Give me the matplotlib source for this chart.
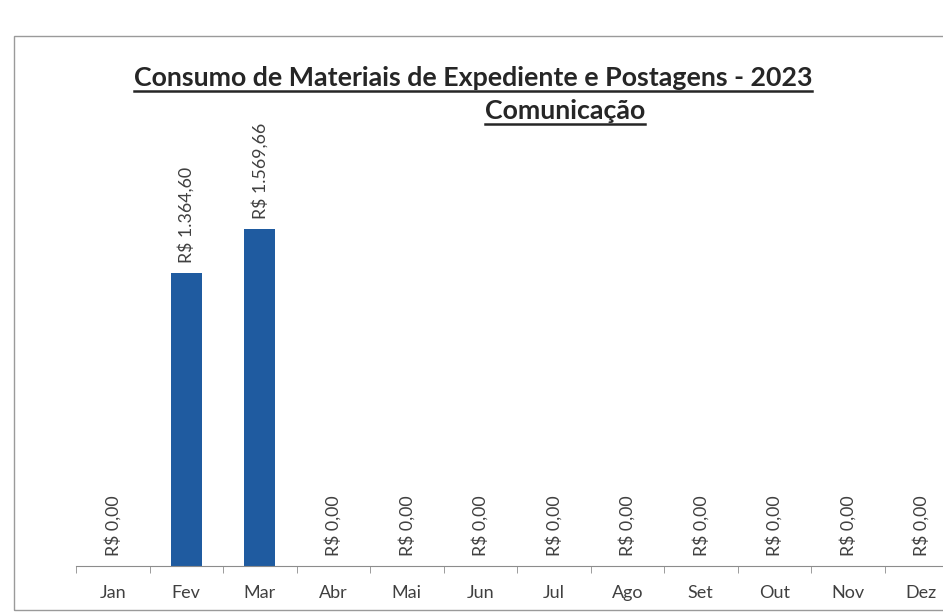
import matplotlib
matplotlib.use("Agg")
import matplotlib.pyplot as plt
from matplotlib.lines import Line2D
from matplotlib.patches import Rectangle

meses = ["Jan", "Fev", "Mar", "Abr", "Mai", "Jun", "Jul", "Ago", "Set", "Out", "Nov", "Dez"]
valores = [0.00, 1364.60, 1569.66, 0.00, 0.00, 0.00, 0.00, 0.00, 0.00, 0.00, 0.00, 0.00]
rotulos = ["R$ 0,00", "R$ 1.364,60", "R$ 1.569,66", "R$ 0,00", "R$ 0,00", "R$ 0,00",
           "R$ 0,00", "R$ 0,00", "R$ 0,00", "R$ 0,00", "R$ 0,00", "R$ 0,00"]

plt.rcParams['font.family'] = ['Lato', 'DejaVu Sans']
texto = '#404040'

fig = plt.figure(figsize=(9.43, 6.16), dpi=100)
W, H = 943, 616

# moldura do grafico (scan)
fig.patches.append(Rectangle((14 / W, 6 / H), 1.2, 574 / H, transform=fig.transFigure,
                             fill=False, edgecolor='#9a9a9a', linewidth=1.0))

ax = fig.add_axes([76 / W, (H - 566) / H, 882 / W, (566 - 93) / H])
x = range(len(meses))
ax.bar(x, valores, width=0.42, color='#1f5ba0')
ax.set_xlim(-0.5, len(meses) - 0.5)
ax.set_ylim(0, 2200)

for xi, v, r in zip(x, valores, rotulos):
    ax.annotate(r, (xi, v), xytext=(0, 7), textcoords='offset points',
                rotation=90, ha='center', va='bottom', fontsize=12.8, color=texto)

for s in ['top', 'right', 'left']:
    ax.spines[s].set_visible(False)
ax.spines['bottom'].set_color('#8c8c8c')
ax.set_yticks([])
ax.set_xticks(x)
ax.set_xticklabels(meses, fontsize=13, color=texto)
ax.tick_params(axis='x', length=0, pad=14)
ax.set_xticks([i - 0.5 for i in range(len(meses) + 1)], minor=True)
ax.tick_params(axis='x', which='minor', length=5, color='#8c8c8c')

t1 = fig.text(473 / W, 1 - 78 / H, "Consumo de Materiais de Expediente e Postagens - 2023",
              ha='center', va='center', fontsize=19.3, fontweight='bold', color='#262626')
t2 = fig.text(565 / W, 1 - 111 / H, "Comunicação",
              ha='center', va='center', fontsize=19.3, fontweight='bold', color='#262626')

# sublinhado dos titulos
fig.canvas.draw()
r = fig.canvas.get_renderer()
for t in (t1, t2):
    bb = t.get_window_extent(r).transformed(fig.transFigure.inverted())
    y = bb.y0 - 1 / H
    fig.lines.append(Line2D([bb.x0, bb.x1], [y, y], transform=fig.transFigure,
                            color='#262626', linewidth=1.8))

fig.savefig("out.png", dpi=100)
